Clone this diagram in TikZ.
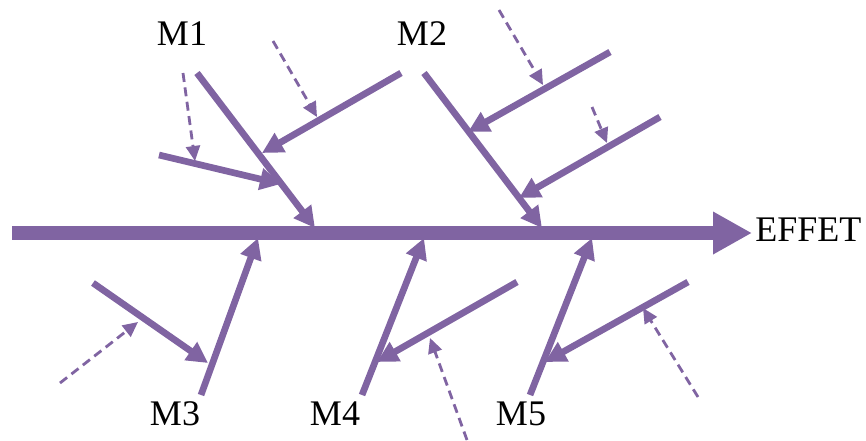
\documentclass[tikz,border=0pt]{standalone}
\usepackage{fontspec}
\setmainfont{Liberation Serif}
\usepackage{xcolor}
\usetikzlibrary{positioning, arrows.meta, calc}
\definecolor{bonepurple}{HTML}{8064A2}

\tikzset{
  spine/.style={draw=bonepurple, line width=7.5pt, -{Triangle[length=0.78cm, width=0.8cm]}},
  bone/.style={draw=bonepurple, line width=3.8pt, -{Triangle[length=0.42cm, width=0.42cm]}},
  cause/.style={draw=bonepurple, line width=1.6pt, dash pattern=on 0.18cm off 0.11cm,
                -{Triangle[length=0.3cm, width=0.28cm]}},
  lbl/.style={font=\fontsize{20.5}{24}\selectfont, inner sep=0pt}
}

\begin{document}
\begin{tikzpicture}[x=0.02cm, y=-0.02cm]
    \useasboundingbox (0,0) rectangle (866,440);

    % main axis
    \coordinate (tail) at (12,233);
    \coordinate (head) at (752,233);
    \draw[spine] (tail) -- (head);
    \node[lbl, anchor=west] (effet) at (755,230) {EFFET};

    % labels
    \node[lbl] (m1) at (182,34) {M1};
    \node[lbl] (m2) at (422,34) {M2};
    \node[lbl] (m3) at (175,414) {M3};
    \node[lbl] (m4) at (335,414) {M4};
    \node[lbl] (m5) at (521,414) {M5};

    % M1
    \coordinate (m1a) at (197,73);   \coordinate (m1b) at (315,228);
    \coordinate (m1c) at (401,73);   \coordinate (m1d) at (262,153);
    \coordinate (m1e) at (159,155);  \coordinate (m1f) at (281,184);
    \coordinate (m1g) at (183,73);   \coordinate (m1h) at (195,161);
    \coordinate (m1i) at (273,41);   \coordinate (m1j) at (317,117);
    \draw[bone] (m1a) -- (m1b);
    \draw[bone] (m1c) -- (m1d);
    \draw[bone] (m1e) -- (m1f);
    \draw[cause] (m1g) -- (m1h);
    \draw[cause] (m1i) -- (m1j);

    % M2
    \coordinate (m2a) at (424,73);   \coordinate (m2b) at (542,228);
    \coordinate (m2c) at (610,52);   \coordinate (m2d) at (468,132);
    \coordinate (m2e) at (660,117);  \coordinate (m2f) at (519,198);
    \coordinate (m2g) at (499,10);   \coordinate (m2h) at (543,85);
    \coordinate (m2i) at (592,107);  \coordinate (m2j) at (607,143);
    \draw[bone] (m2a) -- (m2b);
    \draw[bone] (m2c) -- (m2d);
    \draw[bone] (m2e) -- (m2f);
    \draw[cause] (m2g) -- (m2h);
    \draw[cause] (m2i) -- (m2j);

    % M3
    \coordinate (m3a) at (201,395);  \coordinate (m3b) at (258,238);
    \coordinate (m3c) at (93,283);   \coordinate (m3d) at (208,363);
    \coordinate (m3e) at (60,383);   \coordinate (m3f) at (138,322);
    \draw[bone] (m3a) -- (m3b);
    \draw[bone] (m3c) -- (m3d);
    \draw[cause] (m3e) -- (m3f);

    % M4
    \coordinate (m4a) at (362,395);  \coordinate (m4b) at (424,238);
    \coordinate (m4c) at (517,282);  \coordinate (m4d) at (377,362);
    \coordinate (m4e) at (467,440);  \coordinate (m4f) at (430,338);
    \draw[bone] (m4a) -- (m4b);
    \draw[bone] (m4c) -- (m4d);
    \draw[cause] (m4e) -- (m4f);

    % M5
    \coordinate (m5a) at (530,395);  \coordinate (m5b) at (592,238);
    \coordinate (m5c) at (688,282);  \coordinate (m5d) at (545,362);
    \coordinate (m5e) at (698,397);  \coordinate (m5f) at (643,308);
    \draw[bone] (m5a) -- (m5b);
    \draw[bone] (m5c) -- (m5d);
    \draw[cause] (m5e) -- (m5f);
\end{tikzpicture}
\end{document}
